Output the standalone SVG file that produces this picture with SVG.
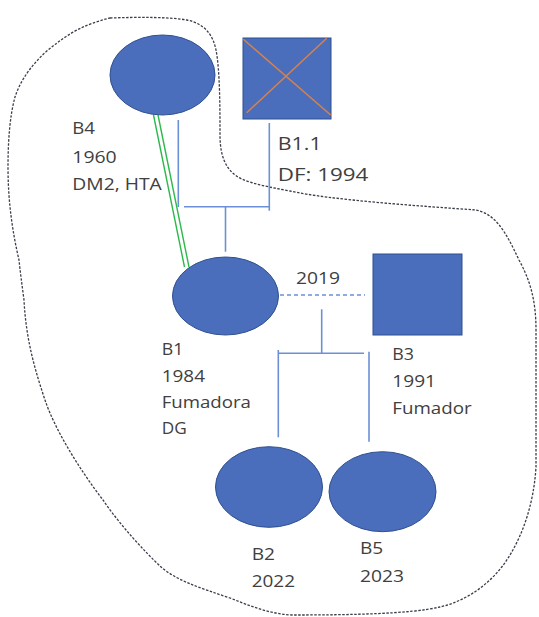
<svg xmlns="http://www.w3.org/2000/svg" width="539" height="617" viewBox="0 0 539 617">
<style>
.node{fill:#4A6EBC;stroke:#2F4F8F;stroke-width:1}
.lbl{font-family:"Open Sans","Noto Sans","Liberation Sans",sans-serif;font-size:17px;fill:#404040}
.big{font-size:19px}
.con{stroke:#6C90D8;stroke-width:1.6;fill:none}
.green{stroke:#2DB84C;stroke-width:1.4;fill:none}
.outline{fill:none;stroke:#3A3D4A;stroke-width:1.3;stroke-dasharray:2.5 1.5}
</style>
<rect width="539" height="617" fill="#ffffff"/>
<path class="outline" d="M 110 18 C 140 17, 170 17, 187 20 C 205 24, 213 35, 216 50 C 220 70, 220 110, 220 135 C 220 160, 228 176, 250 182 C 262 186, 275 188, 290 191 C 330 200, 420 206, 476 210 C 495 214, 505 230, 519 260 C 530 280, 536 300, 536 330 L 536 467 C 534 500, 525 530, 510 555 C 495 580, 470 600, 440 607 C 410 614, 350 615, 292 615 C 270 614, 250 606, 230 598 C 200 588, 175 580, 160 566 C 145 552, 120 525, 103 500 C 80 470, 55 430, 45 400 C 35 370, 26 340, 24 300 C 22 285, 20 270, 19 260 C 12 230, 8 200, 8 167 C 8 140, 10 115, 15 97 C 22 75, 40 55, 57 43 C 70 33, 85 24, 110 18 Z"/>
<g id="connectors">
<line class="con" x1="178.3" y1="120" x2="178.3" y2="207"/>
<line class="con" x1="184" y1="206.7" x2="269.3" y2="206.7"/>
<line class="con" x1="269.3" y1="123" x2="269.3" y2="210.7"/>
<line class="con" x1="225.5" y1="206.7" x2="225.5" y2="251.7"/>
<line class="con" x1="280" y1="295" x2="365" y2="295" stroke-dasharray="4 3"/>
<line class="con" x1="321.7" y1="309.3" x2="321.7" y2="353.3"/>
<line class="con" x1="278.3" y1="353.3" x2="364" y2="353.3"/>
<line class="con" x1="278.3" y1="350" x2="278.3" y2="437.3"/>
<line class="con" x1="369" y1="351.7" x2="369" y2="441.7"/>
<line class="green" x1="153.5" y1="115" x2="184.5" y2="267"/>
<line class="green" x1="158" y1="115" x2="189" y2="267"/>
</g>
<g id="B4">
<ellipse class="node" cx="162.5" cy="75" rx="52.5" ry="40"/>
<text class="lbl" x="72.3" y="134" textLength="22.7" lengthAdjust="spacingAndGlyphs">B4</text>
<text class="lbl" x="72.3" y="162.5" textLength="44.4" lengthAdjust="spacingAndGlyphs">1960</text>
<text class="lbl" x="72.3" y="190" textLength="89.4" lengthAdjust="spacingAndGlyphs">DM2, HTA</text>
</g>
<g id="B1.1">
<rect class="node" x="243" y="38" width="88" height="81"/>
<line x1="243.3" y1="39.3" x2="330.7" y2="115" stroke="#D9824A" stroke-width="1.5"/>
<line x1="246.7" y1="112.7" x2="326.7" y2="38.3" stroke="#D9824A" stroke-width="1.5"/>
<text class="lbl big" x="277.7" y="150" textLength="44" lengthAdjust="spacingAndGlyphs">B1.1</text>
<text class="lbl big" x="277.7" y="180.5" textLength="90.6" lengthAdjust="spacingAndGlyphs">DF: 1994</text>
</g>
<g id="B1">
<ellipse class="node" cx="225.5" cy="296" rx="53" ry="39"/>
<text class="lbl" x="161.7" y="355" textLength="21.6" lengthAdjust="spacingAndGlyphs">B1</text>
<text class="lbl" x="161.7" y="381.7" textLength="43.3" lengthAdjust="spacingAndGlyphs">1984</text>
<text class="lbl" x="161.7" y="408.3" textLength="89.3" lengthAdjust="spacingAndGlyphs">Fumadora</text>
<text class="lbl" x="161.7" y="434" textLength="25" lengthAdjust="spacingAndGlyphs">DG</text>
</g>
<g id="marriage-label">
<text class="lbl" x="296" y="284" textLength="44" lengthAdjust="spacingAndGlyphs">2019</text>
</g>
<g id="B3">
<rect class="node" x="373" y="254" width="89" height="81"/>
<text class="lbl" x="392.3" y="360" textLength="21.7" lengthAdjust="spacingAndGlyphs">B3</text>
<text class="lbl" x="392.3" y="386.7" textLength="43.7" lengthAdjust="spacingAndGlyphs">1991</text>
<text class="lbl" x="392.3" y="414" textLength="79.4" lengthAdjust="spacingAndGlyphs">Fumador</text>
</g>
<g id="B2">
<ellipse class="node" cx="269" cy="487" rx="53.5" ry="40.3"/>
<text class="lbl" x="251.7" y="560" textLength="23.3" lengthAdjust="spacingAndGlyphs">B2</text>
<text class="lbl" x="251.7" y="587.3" textLength="43.3" lengthAdjust="spacingAndGlyphs">2022</text>
</g>
<g id="B5">
<ellipse class="node" cx="382.5" cy="491.7" rx="53.5" ry="40"/>
<text class="lbl" x="360" y="554" textLength="23.3" lengthAdjust="spacingAndGlyphs">B5</text>
<text class="lbl" x="360" y="581.7" textLength="44" lengthAdjust="spacingAndGlyphs">2023</text>
</g>
</svg>
